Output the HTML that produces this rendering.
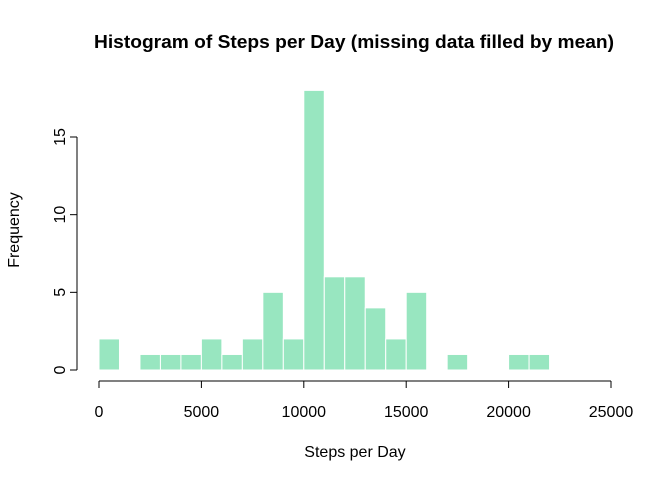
<!DOCTYPE html>
<html><head><meta charset="utf-8"><style>
body{margin:0;background:#fff}
svg text{font-family:"Liberation Sans",Arial,sans-serif;fill:#000}
</style></head><body>
<svg id="chart" width="672" height="480">
<text x="354" y="48" text-anchor="middle" font-size="18" font-weight="bold" textLength="520" lengthAdjust="spacingAndGlyphs">Histogram of Steps per Day (missing data filled by mean)</text>
<text x="355" y="457" text-anchor="middle" font-size="16">Steps per Day</text>
<text transform="translate(19,230) rotate(-90)" text-anchor="middle" font-size="16">Frequency</text>
<g id="bars"></g><g id="xaxis"></g><g id="yaxis"></g>
</svg>
<script>
const binStarts=[0,1000,2000,3000,4000,5000,6000,7000,8000,9000,10000,11000,12000,13000,14000,15000,16000,17000,18000,19000,20000,21000];
const counts=[2,0,1,1,1,2,1,2,5,2,18,6,6,4,2,5,0,1,0,0,1,1];
const binWidth=1000;
const xTicks=[0,5000,10000,15000,20000,25000];
const yTicks=[0,5,10,15];
const NS="http://www.w3.org/2000/svg";
function xs(v){return 99+v*(512/25000);}
function ys(v){return 370-v*(233/15);}
function mk(t,a,p){const e=document.createElementNS(NS,t);for(const k in a)e.setAttribute(k,a[k]);p.appendChild(e);return e;}
const bars=document.getElementById('bars');
binStarts.forEach((b,i)=>{
  if(counts[i]<=0)return;
  const r=mk('rect',{x:xs(b),y:ys(counts[i]),width:xs(b+binWidth)-xs(b),height:ys(0)-ys(counts[i]),fill:'#98E6C0',stroke:'#fff','stroke-width':1},bars);
  
  
});
const xa=document.getElementById('xaxis');
const xl=mk('line',{x1:xs(xTicks[0]),x2:xs(xTicks[xTicks.length-1]),y1:381,y2:381,stroke:'#000'},xa);


xTicks.forEach(t=>{
  mk('line',{x1:xs(t),x2:xs(t),y1:381,y2:388,stroke:'#000'},xa);
  const tx=mk('text',{x:xs(t),y:417,'text-anchor':'middle','font-size':16},xa);
  tx.textContent=t;
  
  
});
const ya=document.getElementById('yaxis');
const yl=mk('line',{x1:77,x2:77,y1:ys(yTicks[0]),y2:ys(yTicks[yTicks.length-1]),stroke:'#000'},ya);


yTicks.forEach(t=>{
  mk('line',{x1:70,x2:77,y1:ys(t),y2:ys(t),stroke:'#000'},ya);
  const tx=mk('text',{transform:'translate(65,'+ys(t)+') rotate(-90)','text-anchor':'middle','font-size':16},ya);
  tx.textContent=t;
  
  
});
</script>
</body></html>
